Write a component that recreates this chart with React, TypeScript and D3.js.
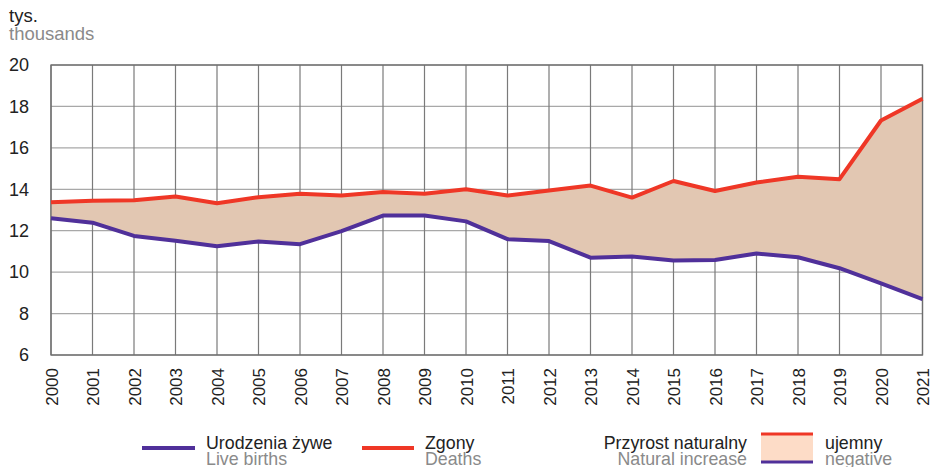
import React from "react";
import * as d3 from "d3";

const years = [2000,2001,2002,2003,2004,2005,2006,2007,2008,2009,2010,2011,2012,2013,2014,2015,2016,2017,2018,2019,2020,2021];
const births = [12.6,12.39,11.75,11.52,11.25,11.48,11.35,11.98,12.73,12.73,12.45,11.59,11.5,10.7,10.75,10.56,10.59,10.9,10.72,10.19,9.46,8.7];
const deaths = [13.37,13.45,13.47,13.65,13.33,13.62,13.79,13.7,13.87,13.79,14.0,13.7,13.94,14.18,13.6,14.4,13.92,14.33,14.6,14.49,17.32,18.37];
const yTicks = [6,8,10,12,14,16,18,20];

const RED = "#ef3726";
const PURPLE = "#50309a";
const FILL = "#e2c7b2";
const FONT = "'Liberation Sans', Arial, sans-serif";

export default function App() {
  const x = d3.scaleLinear().domain([2000, 2021]).range([51, 922.5]);
  const y = d3.scaleLinear().domain([6, 20]).range([355, 65]);
  const area = d3.area<number>()
    .x((_, i) => x(years[i]))
    .y0((_, i) => y(births[i]))
    .y1((_, i) => y(deaths[i]));
  const line = (vals: number[]) =>
    d3.line<number>().x((_, i) => x(years[i])).y((d) => y(d))(vals) || "";

  return (
    <svg width={931} height={467} style={{ position: "absolute", left: 0, top: 0, background: "#fff" }} fontFamily={FONT}>
      <text x={9} y={22} fontSize={18.5} fill="#222">tys.</text>
      <text x={9} y={40} fontSize={18.5} fill="#8a8a8a">thousands</text>

      {yTicks.map((t) => (
        <g key={t}>
          <line x1={x(2000)} x2={x(2021)} y1={y(t)} y2={y(t)} stroke="#a8a8a8" strokeWidth={1.3} />
          <text x={29} y={y(t)} dy="0.35em" textAnchor="end" fontSize={18} fill="#222">{t}</text>
        </g>
      ))}
      {years.map((yr) => (
        <g key={yr}>
          <line x1={x(yr)} x2={x(yr)} y1={y(20)} y2={y(6)} stroke="#7a7a7a" strokeWidth={1.2} />
          <text transform={`translate(${x(yr) + 6.5},368) rotate(-90)`} textAnchor="end" fontSize={17} fill="#222">{yr}</text>
        </g>
      ))}
      <path d={area(births) || ""} fill={FILL} />
      <rect x={x(2000)} y={y(20)} width={x(2021) - x(2000)} height={y(6) - y(20)} fill="none" stroke="#6e6e6e" strokeWidth={1.3} />
      <path d={line(births)} fill="none" stroke={PURPLE} strokeWidth={4} strokeLinejoin="round" />
      <path d={line(deaths)} fill="none" stroke={RED} strokeWidth={4} strokeLinejoin="round" />

      {/* legend */}
      <line x1={142} x2={195} y1={448} y2={448} stroke={PURPLE} strokeWidth={4} />
      <text x={206} y={449} fontSize={17.8} fill="#222">Urodzenia żywe</text>
      <text x={206} y={465} fontSize={17.8} fill="#8a8a8a">Live births</text>

      <line x1={362} x2={414} y1={448} y2={448} stroke={RED} strokeWidth={4} />
      <text x={425} y={449} fontSize={17.8} fill="#222">Zgony</text>
      <text x={425} y={465} fontSize={17.8} fill="#8a8a8a">Deaths</text>

      <text x={747} y={449} textAnchor="end" fontSize={17.8} fill="#222">Przyrost naturalny</text>
      <text x={747} y={465} textAnchor="end" fontSize={17.8} fill="#8a8a8a">Natural increase</text>
      <rect x={761} y={434} width={52} height={28} fill="#fddcc7" />
      <line x1={761} x2={813} y1={434} y2={434} stroke={RED} strokeWidth={3} />
      <line x1={761} x2={813} y1={462} y2={462} stroke={PURPLE} strokeWidth={3} />
      <text x={825} y={449} fontSize={17.8} fill="#222">ujemny</text>
      <text x={825} y={465} fontSize={17.8} fill="#8a8a8a">negative</text>
    </svg>
  );
}
